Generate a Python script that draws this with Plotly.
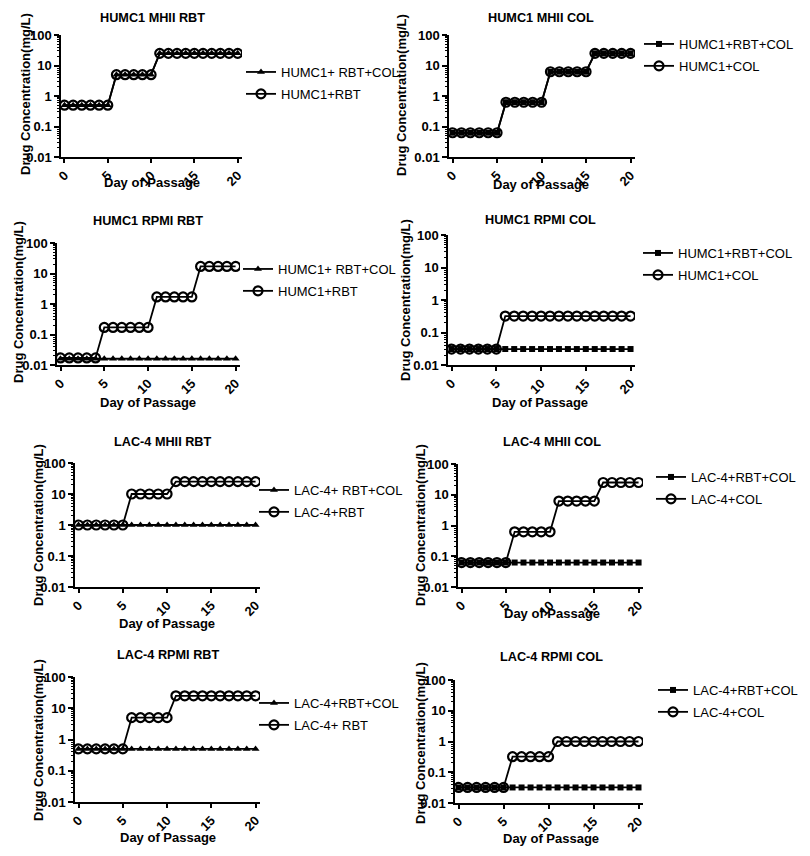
import plotly.graph_objects as go

W, H = 810, 856
OFF = 8  # page body margin shifts the figure, compensate

days = [0, 1, 2, 3, 4, 5, 6, 7, 8, 9, 10, 11, 12, 13, 14, 15, 16, 17, 18, 19, 20]

titles = ["HUMC1 MHII RBT", "HUMC1 MHII COL", "HUMC1 RPMI RBT", "HUMC1 RPMI COL",
          "LAC-4 MHII RBT", "LAC-4 MHII COL", "LAC-4 RPMI RBT", "LAC-4 RPMI COL"]

combo_names = ["HUMC1+ RBT+COL", "HUMC1+RBT+COL", "HUMC1+ RBT+COL", "HUMC1+RBT+COL",
               "LAC-4+ RBT+COL", "LAC-4+RBT+COL", "LAC-4+RBT+COL", "LAC-4+RBT+COL"]
single_names = ["HUMC1+RBT", "HUMC1+COL", "HUMC1+RBT", "HUMC1+COL",
                "LAC-4+RBT", "LAC-4+COL", "LAC-4+ RBT", "LAC-4+COL"]

# drug concentration (mg/L) by day, combination series (triangles / squares)
humc1_mhii_rbt_combo = [0.5, 0.5, 0.5, 0.5, 0.5, 0.5, 5, 5, 5, 5, 5, 25, 25, 25, 25, 25, 25, 25, 25, 25, 25]
humc1_mhii_col_combo = [0.0625, 0.0625, 0.0625, 0.0625, 0.0625, 0.0625, 0.625, 0.625, 0.625, 0.625, 0.625,
                        6.25, 6.25, 6.25, 6.25, 6.25, 25, 25, 25, 25, 25]
humc1_rpmi_rbt_combo = [0.016, 0.016, 0.016, 0.016, 0.016, 0.016, 0.016, 0.016, 0.016, 0.016, 0.016,
                        0.016, 0.016, 0.016, 0.016, 0.016, 0.016, 0.016, 0.016, 0.016, 0.016]
humc1_rpmi_col_combo = [0.031, 0.031, 0.031, 0.031, 0.031, 0.031, 0.031, 0.031, 0.031, 0.031, 0.031,
                        0.031, 0.031, 0.031, 0.031, 0.031, 0.031, 0.031, 0.031, 0.031, 0.031]
lac4_mhii_rbt_combo = [1, 1, 1, 1, 1, 1, 1, 1, 1, 1, 1, 1, 1, 1, 1, 1, 1, 1, 1, 1, 1]
lac4_mhii_col_combo = [0.0625, 0.0625, 0.0625, 0.0625, 0.0625, 0.0625, 0.0625, 0.0625, 0.0625, 0.0625, 0.0625,
                       0.0625, 0.0625, 0.0625, 0.0625, 0.0625, 0.0625, 0.0625, 0.0625, 0.0625, 0.0625]
lac4_rpmi_rbt_combo = [0.5, 0.5, 0.5, 0.5, 0.5, 0.5, 0.5, 0.5, 0.5, 0.5, 0.5,
                       0.5, 0.5, 0.5, 0.5, 0.5, 0.5, 0.5, 0.5, 0.5, 0.5]
lac4_rpmi_col_combo = [0.032, 0.032, 0.032, 0.032, 0.032, 0.032, 0.032, 0.032, 0.032, 0.032, 0.032,
                       0.032, 0.032, 0.032, 0.032, 0.032, 0.032, 0.032, 0.032, 0.032, 0.032]

# single drug series (open circles)
humc1_mhii_rbt = [0.5, 0.5, 0.5, 0.5, 0.5, 0.5, 5, 5, 5, 5, 5, 25, 25, 25, 25, 25, 25, 25, 25, 25, 25]
humc1_mhii_col = [0.0625, 0.0625, 0.0625, 0.0625, 0.0625, 0.0625, 0.625, 0.625, 0.625, 0.625, 0.625,
                  6.25, 6.25, 6.25, 6.25, 6.25, 25, 25, 25, 25, 25]
humc1_rpmi_rbt = [0.017, 0.017, 0.017, 0.017, 0.017, 0.17, 0.17, 0.17, 0.17, 0.17, 0.17,
                  1.7, 1.7, 1.7, 1.7, 1.7, 17, 17, 17, 17, 17]
humc1_rpmi_col = [0.031, 0.031, 0.031, 0.031, 0.031, 0.031, 0.32, 0.32, 0.32, 0.32, 0.32,
                  0.32, 0.32, 0.32, 0.32, 0.32, 0.32, 0.32, 0.32, 0.32, 0.32]
lac4_mhii_rbt = [1, 1, 1, 1, 1, 1, 10, 10, 10, 10, 10, 25, 25, 25, 25, 25, 25, 25, 25, 25, 25]
lac4_mhii_col = [0.0625, 0.0625, 0.0625, 0.0625, 0.0625, 0.0625, 0.625, 0.625, 0.625, 0.625, 0.625,
                 6.25, 6.25, 6.25, 6.25, 6.25, 25, 25, 25, 25, 25]
lac4_rpmi_rbt = [0.5, 0.5, 0.5, 0.5, 0.5, 0.5, 5, 5, 5, 5, 5, 25, 25, 25, 25, 25, 25, 25, 25, 25, 25]
lac4_rpmi_col = [0.032, 0.032, 0.032, 0.032, 0.032, 0.032, 0.32, 0.32, 0.32, 0.32, 0.32,
                 1, 1, 1, 1, 1, 1, 1, 1, 1, 1]

combos = [humc1_mhii_rbt_combo, humc1_mhii_col_combo, humc1_rpmi_rbt_combo, humc1_rpmi_col_combo,
          lac4_mhii_rbt_combo, lac4_mhii_col_combo, lac4_rpmi_rbt_combo, lac4_rpmi_col_combo]
singles = [humc1_mhii_rbt, humc1_mhii_col, humc1_rpmi_rbt, humc1_rpmi_col,
           lac4_mhii_rbt, lac4_mhii_col, lac4_rpmi_rbt, lac4_rpmi_col]
combo_symbols = ["triangle-up", "square", "triangle-up", "square",
                 "triangle-up", "square", "triangle-up", "square"]

y_ticks = [0.01, 0.1, 1, 10, 100]
y_ticklabels = ["0.01", "0.1", "1", "10", "100"]
x_ticks = [0, 5, 10, 15, 20]

# layout in pixels: plot box (x0, x1, ytop, ybottom), title centre, x title centre,
# y title centre, legend (symbol x, first row y)
boxes = [(61, 242, 35, 157), (449, 635, 35, 157), (57, 240, 243, 365), (448, 635, 235, 365),
         (75, 260, 463, 587), (458, 643, 464, 587), (75, 260, 677, 802), (455, 643, 680, 803)]
title_pos = [(152, 18), (541, 18), (148, 221), (540, 220), (163, 442), (552, 442), (168, 655), (551, 657)]
xtitle_pos = [(152, 182), (541, 184), (148, 402), (540, 402), (167, 623), (552, 613), (168, 837), (551, 838)]
ytitle_pos = [(26, 94), (402, 95), (18, 302), (405, 300), (38, 525), (420, 525), (38, 740), (420, 743)]
legend_pos = [(265, 72), (663, 44), (262, 269), (662, 253), (278, 490), (675, 477), (278, 703), (677, 690)]

FONT = "Liberation Sans, Arial, sans-serif"
BLACK = "#000000"


def px(x):
    return (x - OFF) / W


def py(y):
    return 1 - (y - OFF) / H


fig = go.Figure()
annotations = []
layout = {}

minor_vals = [0.02, 0.03, 0.04, 0.05, 0.06, 0.07, 0.08, 0.09,
              0.2, 0.3, 0.4, 0.5, 0.6, 0.7, 0.8, 0.9,
              2, 3, 4, 5, 6, 7, 8, 9,
              20, 30, 40, 50, 60, 70, 80, 90]

for i in range(8):
    n = "" if i == 0 else str(i + 1)
    leg = "legend" + n
    x0, x1, yt, yb = boxes[i]

    fig.add_trace(go.Scatter(
        x=days, y=combos[i], name=combo_names[i], mode="lines+markers",
        xaxis="x" + n, yaxis="y" + n, legend=leg, legendgroup="a%d" % i,
        line=dict(color=BLACK, width=1.8),
        marker=dict(symbol=combo_symbols[i], color=BLACK,
                    size=7 if combo_symbols[i] == "triangle-up" else 6),
    ))
    fig.add_trace(go.Scatter(
        x=days, y=singles[i], name=single_names[i], mode="lines+markers",
        xaxis="x" + n, yaxis="y" + n, legend=leg, legendgroup="b%d" % i,
        line=dict(color=BLACK, width=1.8),
        marker=dict(symbol="circle-open", color=BLACK, size=9, line=dict(width=2.2, color=BLACK)),
    ))

    layout["xaxis" + n] = dict(
        domain=[px(x0), px(x1)], anchor="y" + n, range=[-0.4, 20.5],
        tickvals=x_ticks, ticktext=[str(v) for v in x_ticks], tickangle=-45,
        ticks="outside", ticklen=4, tickwidth=1.5, tickcolor=BLACK,
        showline=True, linecolor=BLACK, linewidth=1.5, showgrid=False, zeroline=False,
        tickfont=dict(family=FONT, size=13, color=BLACK, weight="bold"),
        automargin=False,
    )
    layout["yaxis" + n] = dict(
        domain=[py(yb), py(yt)], anchor="x" + n, type="log", range=[-2, 2],
        tickvals=y_ticks, ticktext=y_ticklabels,
        ticks="outside", ticklen=5, tickwidth=1.5, tickcolor=BLACK,
        minor=dict(tickmode="array", tickvals=minor_vals, ticks="outside", ticklen=2,
                   tickwidth=1, tickcolor=BLACK, showgrid=False),
        showline=True, linecolor=BLACK, linewidth=1.5, showgrid=False, zeroline=False,
        tickfont=dict(family=FONT, size=13, color=BLACK, weight="bold"),
        automargin=False,
    )

    lx, ly = legend_pos[i]
    layout[leg] = dict(
        x=px(lx - 24), y=py(ly - 15), xanchor="left", yanchor="top",
        bgcolor="rgba(0,0,0,0)", borderwidth=0, itemwidth=30,
        traceorder="grouped", tracegroupgap=2,
        font=dict(family=FONT, size=13, color=BLACK),
    )

    tx, ty = title_pos[i]
    annotations.append(dict(text="<b>" + titles[i] + "</b>", x=px(tx), y=py(ty),
                            xref="paper", yref="paper", showarrow=False,
                            xanchor="center", yanchor="middle",
                            font=dict(family=FONT, size=12.7, color=BLACK)))
    tx, ty = xtitle_pos[i]
    annotations.append(dict(text="<b>Day of Passage</b>", x=px(tx), y=py(ty),
                            xref="paper", yref="paper", showarrow=False,
                            xanchor="center", yanchor="middle",
                            font=dict(family=FONT, size=13, color=BLACK)))
    tx, ty = ytitle_pos[i]
    annotations.append(dict(text="<b>Drug Concentration(mg/L)</b>", x=px(tx), y=py(ty),
                            xref="paper", yref="paper", showarrow=False, textangle=-90,
                            xanchor="center", yanchor="middle",
                            font=dict(family=FONT, size=13, color=BLACK)))

fig.update_layout(
    width=W, height=H,
    margin=dict(l=0, r=0, t=0, b=0, autoexpand=False),
    paper_bgcolor="white", plot_bgcolor="white",
    annotations=annotations,
    **layout,
)

fig.write_html("out.html")
